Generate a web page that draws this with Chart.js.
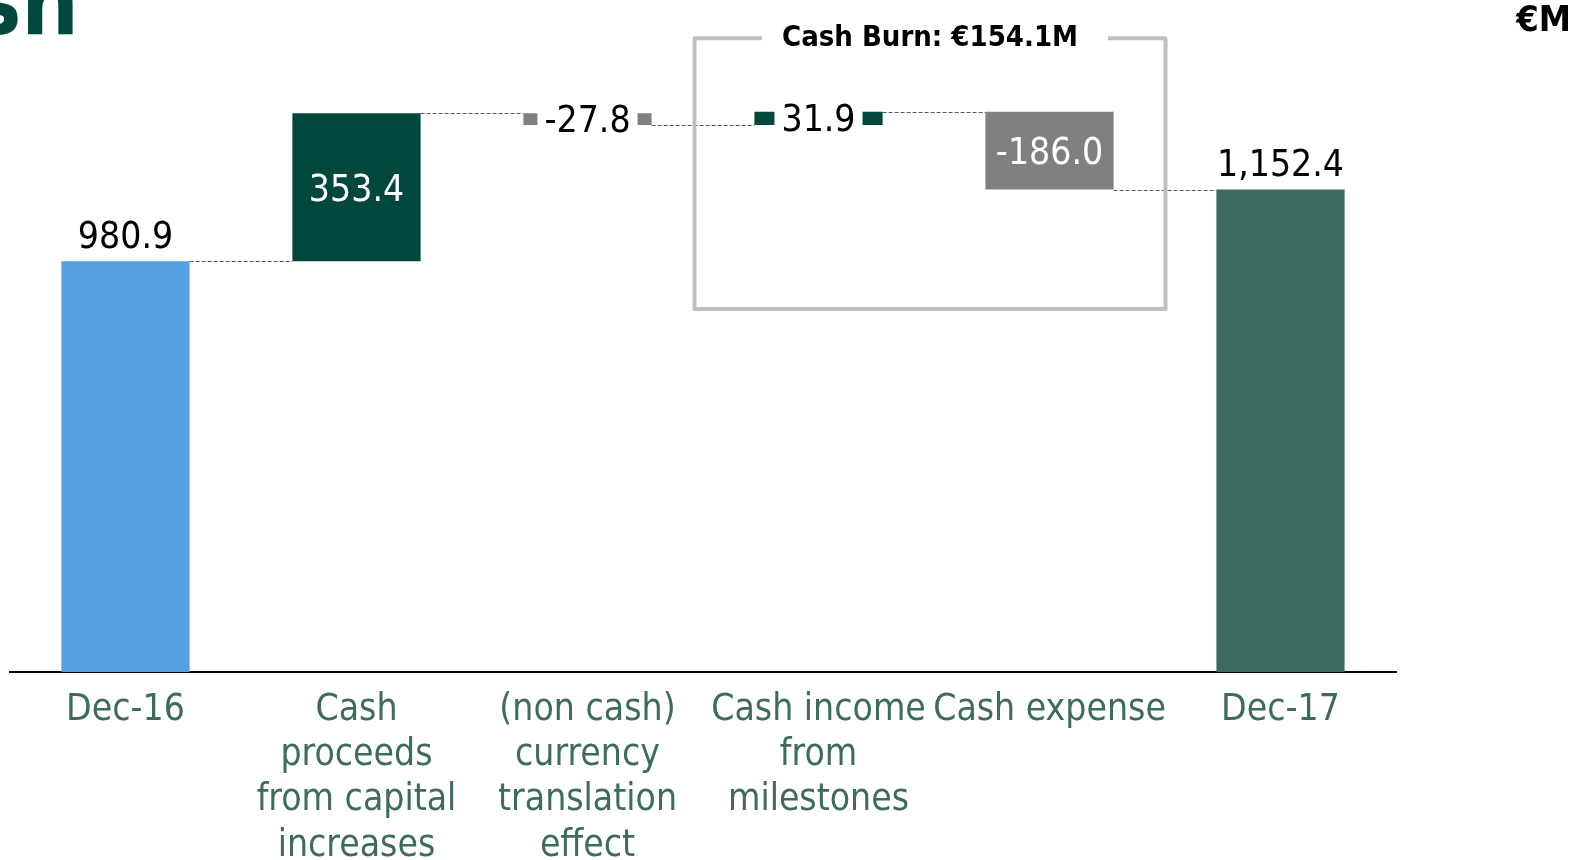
<!DOCTYPE html>
<html>
<head>
<meta charset="utf-8">
<script src="https://cdn.jsdelivr.net/npm/chart.js@4.4.1/dist/chart.umd.min.js"></script>
<style>
  html, body { margin: 0; padding: 0; background: #fff; }
  #wrap { position: relative; width: 1586px; height: 860px; }
</style>
</head>
<body>
<div id="wrap"><canvas id="myChart"></canvas></div>
<script>
var categories = [
	["Dec-16"],
	["Cash", "proceeds", "from capital", "increases"],
	["(non cash)", "currency", "translation", "effect"],
	["Cash income", "from", "milestones"],
	["Cash expense"],
	["Dec-17"],
];
var values = [980.9, 353.4, -27.8, 31.9, -186.0, 1152.4];
var isTotal = [true, false, false, false, false, true];
var barColors = ["#55A0E0", "#00473C", "#808080", "#00473C", "#808080", "#3D6B5F"];
var labelStyle = ["above", "inside", "boxed", "boxed", "inside", "above"];
var burnLabel = "Cash Burn: €154.1M";
var unitLabel = "€M";
var titleFragment = "sh";

var FONT = '"DejaVu Sans Condensed", "DejaVu Sans", sans-serif';

// running totals -> floating bars
var floating = [];
var running = 0;
for (var i = 0; i < values.length; i++) {
	if (isTotal[i]) {
		floating.push([0, values[i]]);
		running = values[i];
	} else {
		floating.push([running, running + values[i]]);
		running += values[i];
	}
}

function fmt(v) {
	return v.toLocaleString("en-US", { minimumFractionDigits: 1, maximumFractionDigits: 1 });
}

var waterfallExtras = {
	id: "waterfallExtras",
	afterDatasetsDraw: function (chart) {
		var ctx = chart.ctx;
		var meta = chart.getDatasetMeta(0);
		var x = chart.scales.x;
		var y = chart.scales.y;
		ctx.save();

		// dashed connectors
		ctx.strokeStyle = "#595959";
		ctx.lineWidth = 1;
		ctx.setLineDash([4, 2]);
		for (var i = 0; i < meta.data.length - 1; i++) {
			var a = meta.data[i], b = meta.data[i + 1];
			var py = Math.round(y.getPixelForValue(floating[i][1])) + 0.5;
			ctx.beginPath();
			ctx.moveTo(a.x + a.width / 2, py);
			ctx.lineTo(b.x - b.width / 2, py);
			ctx.stroke();
		}
		ctx.setLineDash([]);

		// value labels
		ctx.font = "37px " + FONT;
		ctx.textAlign = "center";
		ctx.textBaseline = "middle";
		for (var j = 0; j < meta.data.length; j++) {
			var bar = meta.data[j];
			var text = fmt(values[j]);
			var top = Math.min(bar.y, bar.base), bottom = Math.max(bar.y, bar.base);
			var mid = (top + bottom) / 2;
			if (labelStyle[j] === "above") {
				ctx.fillStyle = "#000";
				ctx.fillText(text, bar.x, top - 23);
			} else if (labelStyle[j] === "inside") {
				ctx.fillStyle = "#fff";
				ctx.fillText(text, bar.x, mid + 4);
			} else {
				var w = ctx.measureText(text).width + 14;
				ctx.fillStyle = "#fff";
				ctx.fillRect(bar.x - w / 2, top - 2, w, bottom - top + 4);
				ctx.fillStyle = "#000";
				ctx.fillText(text, bar.x, mid + 3);
			}
		}

		// cash burn box around income + expense
		var left = x.getPixelForValue(3) - 124;
		var right = x.getPixelForValue(4) + 116;
		var bt = y.getPixelForValue(1514);
		var bb = y.getPixelForValue(867);
		var cx = (left + right) / 2;
		ctx.font = "bold 29px " + FONT;
		var tw = ctx.measureText(burnLabel).width;
		ctx.strokeStyle = "#BFBFBF";
		ctx.lineWidth = 4;
		ctx.lineJoin = "round";
		ctx.beginPath();
		ctx.moveTo(cx - tw / 2 - 20, bt);
		ctx.lineTo(left, bt);
		ctx.lineTo(left, bb);
		ctx.lineTo(right, bb);
		ctx.lineTo(right, bt);
		ctx.lineTo(cx + tw / 2 + 30, bt);
		ctx.stroke();
		ctx.fillStyle = "#000";
		ctx.fillText(burnLabel, cx, bt);

		// unit + clipped title fragment
		ctx.font = "bold 36px " + FONT;
		ctx.textAlign = "right";
		ctx.fillText(unitLabel, 1571, 22);
		ctx.font = "bold 90px " + FONT;
		ctx.fillStyle = "#00473C";
		ctx.textBaseline = "alphabetic";
		ctx.fillText(titleFragment, 79, 34);

		ctx.restore();
	},
};

var ctx = document.getElementById("myChart").getContext("2d");
var myChart = new Chart(ctx, {
	type: "bar",
	data: {
		labels: categories,
		datasets: [
			{
				data: floating,
				backgroundColor: barColors,
				borderWidth: 0,
				borderSkipped: false,
				categoryPercentage: 1,
				barPercentage: 0.555,
			},
		],
	},
	options: {
		responsive: true,
		maintainAspectRatio: false,
		animation: false,
		devicePixelRatio: 1,
		layout: { padding: { left: 10, right: 190, top: 44, bottom: 0 } },
		plugins: {
			legend: { display: false },
			tooltip: { enabled: false },
		},
		scales: {
			x: {
				grid: { display: false, drawTicks: false },
				border: { display: true, color: "#000", width: 2 },
				ticks: {
					color: "#3D6B5F",
					font: { family: FONT, size: 37, lineHeight: 1.22 },
					padding: 16,
					maxRotation: 0,
					autoSkip: false,
				},
				afterFit: function (scale) {
					scale.height = 188;
				},
			},
			y: {
				display: false,
				min: 0,
				max: 1500,
			},
		},
	},
	plugins: [waterfallExtras],
});
</script>
</body>
</html>
